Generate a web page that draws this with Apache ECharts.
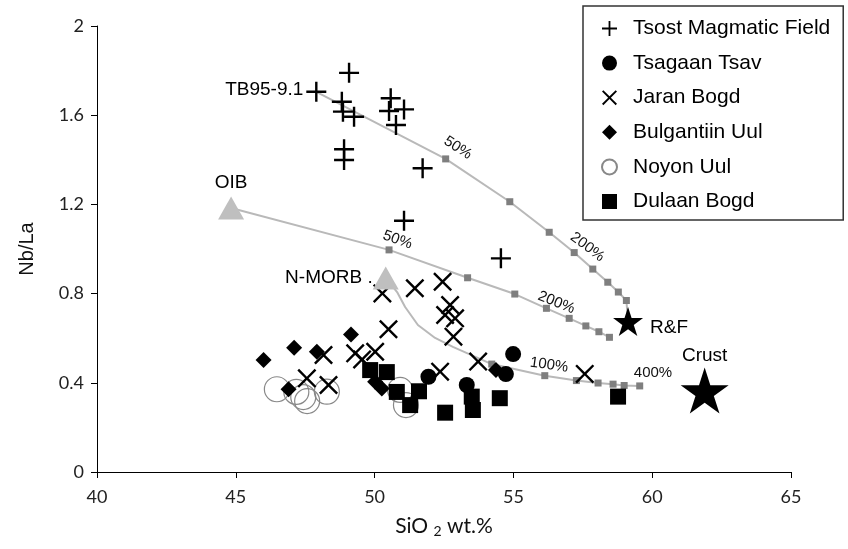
<!DOCTYPE html>
<html><head><meta charset="utf-8">
<script src="https://cdn.jsdelivr.net/npm/echarts@6/dist/echarts.min.js"></script>
<style>html,body{margin:0;padding:0;background:#fff}#c{width:848px;height:549px}</style>
</head><body><div id="c"></div>
<script>
// ---- data ----
const tsostX = [47.90, 49.08, 48.82, 48.86, 49.26, 50.58, 50.52, 51.06, 50.77, 48.90, 48.90, 51.73, 51.06, 54.55];
const tsostY = [1.705, 1.790, 1.660, 1.616, 1.593, 1.676, 1.619, 1.626, 1.556, 1.447, 1.399, 1.362, 1.127, 0.958];
const tsagaanX = [54.99, 54.73, 53.32, 51.94];
const tsagaanY = [0.529, 0.439, 0.390, 0.427];
const jaranX = [50.28, 51.45, 52.45, 52.72, 52.54, 52.90, 52.84, 50.50, 53.73, 52.36, 57.57, 50.02, 49.30, 48.16, 47.56, 48.34, 49.55];
const jaranY = [0.801, 0.824, 0.853, 0.749, 0.704, 0.689, 0.607, 0.640, 0.495, 0.450, 0.440, 0.539, 0.532, 0.525, 0.420, 0.390, 0.505];
const bulgX = [46.00, 47.10, 47.92, 49.15, 46.90, 50.02, 50.26, 54.37];
const bulgY = [0.502, 0.557, 0.539, 0.617, 0.371, 0.405, 0.375, 0.457];
const noyonX = [46.48, 47.18, 47.43, 47.57, 48.28, 50.92, 51.13];
const noyonY = [0.371, 0.359, 0.336, 0.318, 0.360, 0.368, 0.300];
const dulaanX = [49.84, 50.44, 50.80, 51.28, 51.60, 52.54, 53.50, 53.54, 54.51, 58.77];
const dulaanY = [0.457, 0.448, 0.359, 0.300, 0.362, 0.266, 0.338, 0.278, 0.331, 0.338];

// mixing curves (vertex, whether a step square is drawn, step label)
const upperX = [47.90, 52.56, 54.87, 56.29, 57.19, 57.86, 58.40, 58.78, 59.07, 59.13];
const upperY = [1.705, 1.404, 1.212, 1.075, 0.984, 0.910, 0.851, 0.807, 0.769, 0.675];
const upperMark = [0, 1, 1, 1, 1, 1, 1, 1, 1, 0];
const upperText = ['', '50%', '', '', '200%', '', '', '', '', ''];
const midX = [44.83, 50.52, 53.35, 55.05, 56.19, 57.01, 57.61, 58.08, 58.46];
const midY = [1.184, 0.996, 0.871, 0.798, 0.734, 0.689, 0.655, 0.629, 0.604];
const midMark = [0, 1, 1, 1, 1, 1, 1, 1, 1];
const midText = ['', '50%', '', '', '200%', '', '', '', ''];
const lowX = [50.40, 50.81, 51.10, 51.56, 52.18, 52.82, 54.22, 56.13, 57.27, 58.05, 58.59, 58.99, 59.55];
const lowY = [0.870, 0.807, 0.740, 0.659, 0.601, 0.561, 0.484, 0.432, 0.410, 0.399, 0.394, 0.388, 0.386];
const lowMark = [0, 0, 0, 0, 0, 0, 1, 1, 1, 1, 1, 1, 1];
const lowText = ['', '', '', '', '', '', '', '100%', '', '', '', '', '400%'];

// end members
const triNames = ['OIB', 'N-MORB .'];
const triX = [44.83, 50.40];
const triY = [1.184, 0.870];
const starNames = ['R&F', 'Crust'];
const starX = [59.13, 61.89];
const starY = [0.675, 0.365];

const legendNames = ['Tsost Magmatic Field', 'Tsagaan Tsav', 'Jaran Bogd', 'Bulgantiin Uul', 'Noyon Uul', 'Dulaan Bogd'];

// ---- styling ----
const PLUS = 'path://M-1.2,-10L1.2,-10L1.2,-1.2L10,-1.2L10,1.2L1.2,1.2L1.2,10L-1.2,10L-1.2,1.2L-10,1.2L-10,-1.2L-1.2,-1.2Z';
const CROSS = 'path://M-10,-8.2L-8.2,-10L0,-1.8L8.2,-10L10,-8.2L1.8,0L10,8.2L8.2,10L0,1.8L-8.2,10L-10,8.2L-1.8,0Z';
const STAR = 'path://M0,-10L2.245,-3.09L9.511,-3.09L3.633,1.18L5.878,8.09L0,3.82L-5.878,8.09L-3.633,1.18L-9.511,-3.09L-2.245,-3.09Z';
const SQ = 7;
const pctStyle = {
  upper: {'50%': {d: [12.3, -11], r: -33}, '200%': {d: [13.2, -5.5], r: -37}},
  mid: {'50%': {d: [8.5, -10], r: -20}, '200%': {d: [10, -5.8], r: -22}},
  low: {'100%': {d: [4.2, -10.7], r: -8}, '400%': {d: [13.3, -13.5], r: 0}}
};
const annFont = {fontFamily: 'Liberation Sans, Arial', fontSize: 19, color: '#000'};

function zip(xs, ys) { return xs.map((x, i) => [x, ys[i]]); }

function curve(name, xs, ys, marks, texts, key) {
  return {
    type: 'line', name: name, z: 2, silent: true,
    symbolSize: SQ, showAllSymbol: true,
    itemStyle: {color: '#7f7f7f', opacity: 1},
    lineStyle: {color: '#b9b9b9', width: 2},
    label: {show: false},
    emphasis: {disabled: true},
    data: xs.map((x, i) => {
      const item = {value: [x, ys[i]], symbol: marks[i] ? 'rect' : 'none'};
      if (texts[i]) {
        const s = pctStyle[key][texts[i]];
        item.label = {
          show: true, formatter: texts[i],
          position: [SQ / 2 + s.d[0], SQ / 2 + s.d[1]],
          rotate: s.r, align: 'center', verticalAlign: 'middle',
          fontFamily: 'Liberation Sans, Arial', fontSize: 15, color: '#111'
        };
      }
      return item;
    })
  };
}

function scatter(name, xs, ys, sym, size, itemStyle, z) {
  return {
    type: 'scatter', name: name, symbol: sym, symbolSize: size, z: z,
    itemStyle: Object.assign({opacity: 1}, itemStyle), emphasis: {disabled: true},
    data: zip(xs, ys)
  };
}

const tsostSeries = scatter('Tsost Magmatic Field', tsostX, tsostY, PLUS, 20, {color: '#000'}, 9);
tsostSeries.data[0] = {value: tsostSeries.data[0], label: Object.assign({show: true, formatter: 'TB95-9.1', position: 'left', distance: 3, offset: [0, -2]}, annFont)};

const option = {
  animation: false,
  backgroundColor: '#fff',
  grid: {left: 97, right: 57, top: 26, bottom: 77, containLabel: false, outerBoundsMode: 'none'},
  legend: {
    data: legendNames,
    orient: 'vertical', left: 583, top: 6,
    padding: [12, 13, 8, 18],
    itemGap: 13.6, itemWidth: 15, itemHeight: 15,
    selectedMode: false,
    backgroundColor: '#fff', borderColor: '#333', borderWidth: 1.5, borderRadius: 0,
    textStyle: {fontFamily: 'Liberation Sans, Arial', fontSize: 21, color: '#000', lineHeight: 21, padding: [0, 0, 0, 11]}
  },
  xAxis: {
    type: 'value', min: 40, max: 65, interval: 5,
    splitLine: {show: false},
    axisLine: {onZero: false, lineStyle: {color: '#000', width: 1}},
    axisTick: {show: true, length: 6, lineStyle: {color: '#000'}},
    axisLabel: {fontFamily: 'Lato', fontSize: 18, color: '#222', margin: 16},
    name: 'SiO {s|2} wt.%', nameLocation: 'middle', nameGap: 42,
    nameTextStyle: {fontFamily: 'Lato', fontSize: 21, color: '#111',
      rich: {s: {fontFamily: 'Lato', fontSize: 14, color: '#111', padding: [10, 0, 0, 0]}}}
  },
  yAxis: {
    type: 'value', min: 0, max: 2, interval: 0.4,
    splitLine: {show: false},
    axisLine: {show: true, onZero: false, lineStyle: {color: '#000', width: 1}},
    axisTick: {show: true, length: 6, lineStyle: {color: '#000'}},
    axisLabel: {fontFamily: 'Lato', fontSize: 18, color: '#222', margin: 13},
    name: 'Nb/La', nameLocation: 'middle', nameGap: 60, nameRotate: 90,
    nameTextStyle: {fontFamily: 'Liberation Sans, Arial', fontSize: 20, color: '#111'}
  },
  series: [
    curve('upper', upperX, upperY, upperMark, upperText, 'upper'),
    curve('mid', midX, midY, midMark, midText, 'mid'),
    curve('low', lowX, lowY, lowMark, lowText, 'low'),
    scatter('Noyon Uul', noyonX, noyonY, 'circle', 25, {color: 'rgba(255,255,255,0)', borderColor: '#888', borderWidth: 1.2}, 3),
    scatter('Jaran Bogd', jaranX, jaranY, CROSS, 19, {color: '#000'}, 4),
    scatter('Bulgantiin Uul', bulgX, bulgY, 'diamond', 16, {color: '#000'}, 5),
    scatter('Dulaan Bogd', dulaanX, dulaanY, 'rect', 16, {color: '#000'}, 6),
    scatter('Tsagaan Tsav', tsagaanX, tsagaanY, 'circle', 16, {color: '#000'}, 7),
    tsostSeries,
    {
      type: 'scatter', name: 'endmembers', symbol: 'triangle', symbolSize: [26, 23], z: 10,
      itemStyle: {color: '#bfbfbf', opacity: 1}, emphasis: {disabled: true},
      data: triX.map((x, i) => ({value: [x, triY[i]], name: triNames[i],
        label: Object.assign({show: true, formatter: '{b}', position: i === 0 ? 'top' : 'left', distance: i === 0 ? 4 : 0}, annFont)}))
    },
    {
      type: 'scatter', name: 'stars', symbol: STAR, z: 10,
      itemStyle: {color: '#000', opacity: 1}, emphasis: {disabled: true},
      data: starX.map((x, i) => ({value: [x, starY[i]], name: starNames[i],
        symbolSize: i === 0 ? [30, 29] : [48, 46],
        label: Object.assign({show: true, formatter: '{b}', position: i === 0 ? 'right' : 'top', distance: i === 0 ? 7 : 2, offset: i === 0 ? [0, 6] : [0, 0]}, annFont)}))
    }
  ]
};

const chart = echarts.init(document.getElementById('c'), null, {renderer: 'canvas'});
chart.setOption(option);
</script>
</body></html>
